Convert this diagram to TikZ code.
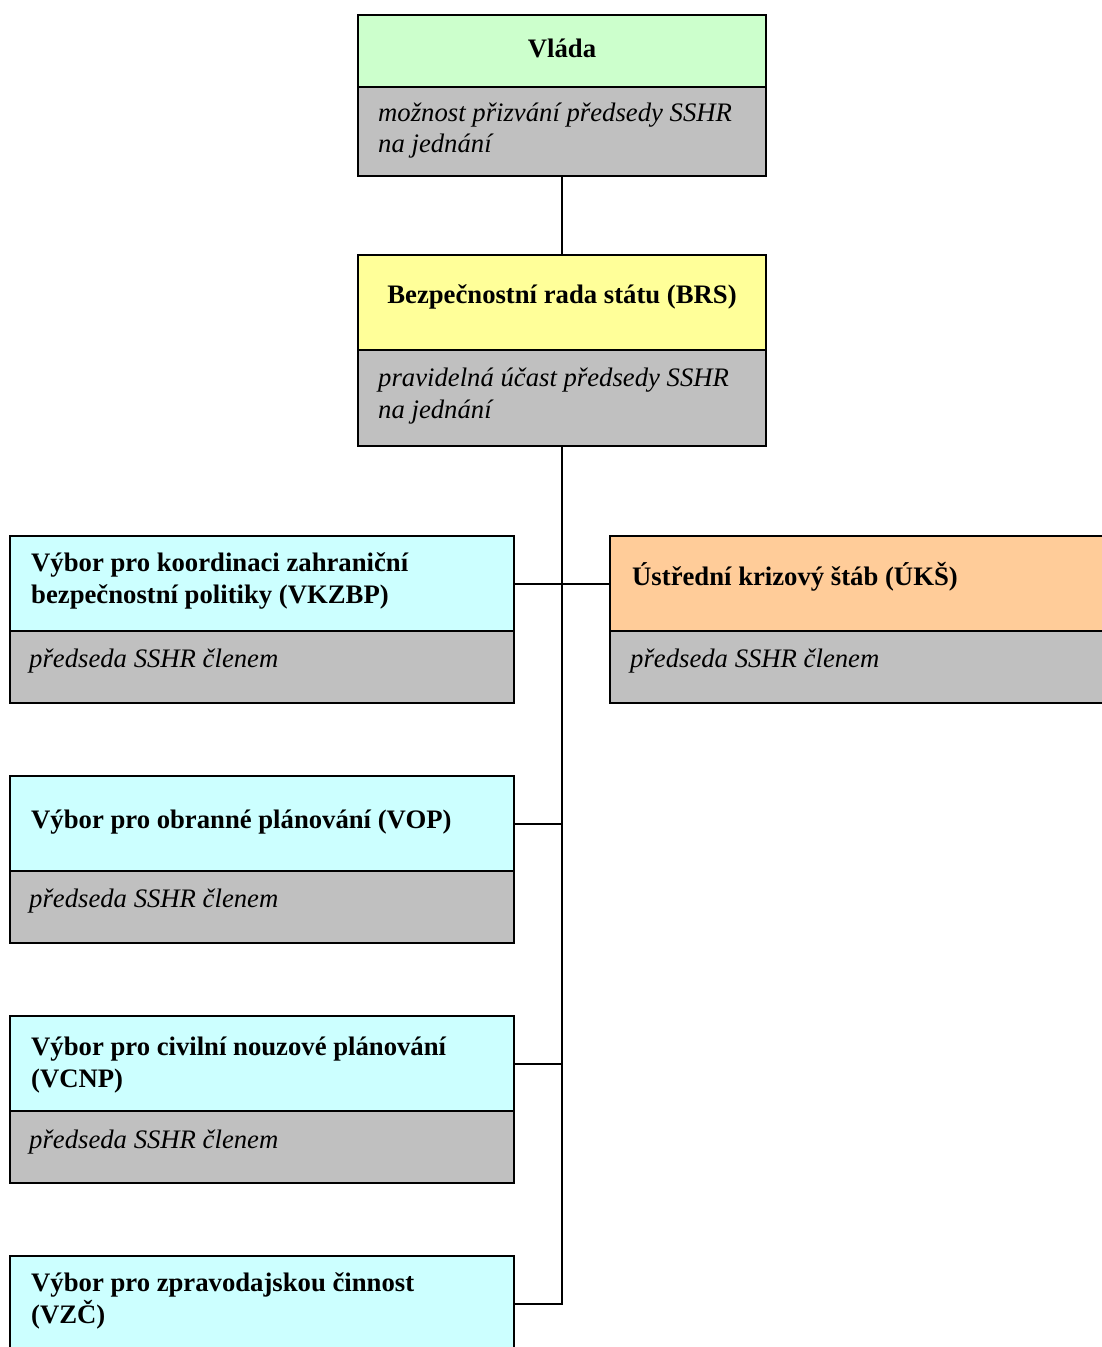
\documentclass[tikz,border=0pt]{standalone}
\usepackage{fontspec}
\setmainfont{Liberation Serif}
\definecolor{cgreen}{RGB}{204,255,204}
\definecolor{cyellow}{RGB}{255,255,153}
\definecolor{ccyan}{RGB}{204,255,255}
\definecolor{corange}{RGB}{255,204,153}
\definecolor{cgray}{RGB}{192,192,192}
\begin{document}
\begin{tikzpicture}[x=1pt,y=-1pt,
  boxshape/.style={draw=black, line width=2pt, anchor=north west, inner sep=0pt, outer sep=0pt},
  headbox/.style={boxshape, minimum height=95pt},
  graybox/.style={boxshape, fill=cgray, minimum height=72pt},
  ttl/.style={font=\fontsize{26.7}{32}\selectfont\bfseries, inner sep=0pt, anchor=base west},
  ttlc/.style={font=\fontsize{26.7}{32}\selectfont\bfseries, inner sep=0pt, anchor=base},
  note/.style={font=\fontsize{26.7}{32}\selectfont\itshape, inner sep=0pt, anchor=base west},
  conn/.style={draw=black, line width=2pt}]
\clip (0,0) rectangle (1102,1347);
\fill[white] (0,0) rectangle (1102,1347);

% Vlada
\node[headbox, fill=cgreen, minimum width=408pt, minimum height=72pt] (vlada) at (358,15) {};
\node[graybox, minimum width=408pt, minimum height=89pt] (vladag) at (358,87) {};
\node[ttlc] (vladat) at (562,57) {Vláda};
\node[note] (vladan1) at (378,121) {možnost přizvání předsedy SSHR};
\node[note] (vladan2) at (378,152) {na jednání};

% BRS
\node[headbox, fill=cyellow, minimum width=408pt] (brs) at (358,255) {};
\node[graybox, minimum width=408pt, minimum height=96pt] (brsg) at (358,350) {};
\node[ttlc] (brst) at (562,303) {Bezpečnostní rada státu (BRS)};
\node[note] (brsn1) at (378,386) {pravidelná účast předsedy SSHR};
\node[note] (brsn2) at (378,418) {na jednání};

% VKZBP
\node[headbox, fill=ccyan, minimum width=504pt] (vkzbp) at (10,536) {};
\node[graybox, minimum width=504pt] (vkzbpg) at (10,631) {};
\node[ttl] (vkzbpt1) at (31,571) {Výbor pro koordinaci zahraniční};
\node[ttl] (vkzbpt2) at (31,603) {bezpečnostní politiky (VKZBP)};
\node[note] (vkzbpn) at (29,667) {předseda SSHR členem};

% UKS
\node[headbox, fill=corange, minimum width=560pt] (uks) at (610,536) {};
\node[graybox, minimum width=560pt] (uksg) at (610,631) {};
\node[ttl] (ukst) at (632,585) {Ústřední krizový štáb (ÚKŠ)};
\node[note] (uksn) at (630,667) {předseda SSHR členem};

% VOP
\node[headbox, fill=ccyan, minimum width=504pt] (vop) at (10,776) {};
\node[graybox, minimum width=504pt] (vopg) at (10,871) {};
\node[ttl] (vopt) at (31,828) {Výbor pro obranné plánování (VOP)};
\node[note] (vopn) at (29,907) {předseda SSHR členem};

% VCNP
\node[headbox, fill=ccyan, minimum width=504pt] (vcnp) at (10,1016) {};
\node[graybox, minimum width=504pt] (vcnpg) at (10,1111) {};
\node[ttl] (vcnpt1) at (31,1055) {Výbor pro civilní nouzové plánování};
\node[ttl] (vcnpt2) at (31,1087) {(VCNP)};
\node[note] (vcnpn) at (29,1148) {předseda SSHR členem};

% VZC
\node[headbox, fill=ccyan, minimum width=504pt, minimum height=96pt] (vzc) at (10,1256) {};
\node[graybox, minimum width=504pt] (vzcg) at (10,1352) {};
\node[ttl] (vzct1) at (31,1291) {Výbor pro zpravodajskou činnost};
\node[ttl] (vzct2) at (31,1323) {(VZČ)};

% connectors
\draw[conn] (vladag.south) -- (brs.north);
\draw[conn] (brsg.south) |- (vzc.east);
\draw[conn] (vkzbp.east) -- (uks.west);
\draw[conn] (vop.east) -- (vop.east -| brsg.south);
\draw[conn] (vcnp.east) -- (vcnp.east -| brsg.south);
\end{tikzpicture}
\end{document}
